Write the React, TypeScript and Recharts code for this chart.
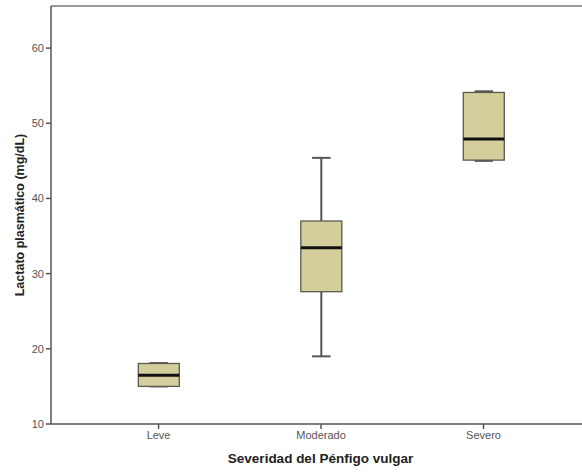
import {
  ComposedChart,
  Bar,
  XAxis,
  YAxis,
  ReferenceLine,
  Label,
} from "recharts";

const categories = ["Leve", "Moderado", "Severo"];
const positions = [1, 2, 3];
const mins = [15.0, 19.0, 45.0];
const q1s = [15.0, 27.6, 45.1];
const medians = [16.5, 33.45, 47.9];
const q3s = [18.05, 37.0, 54.1];
const maxs = [18.1, 45.4, 54.25];

const yTicks = [10, 20, 30, 40, 50, 60];
const yMax = 65.6;

const data = categories.map((name, i) => ({
  name,
  x: positions[i],
  min: mins[i],
  q1: q1s[i],
  median: medians[i],
  q3: q3s[i],
  max: maxs[i],
}));

const FONT = "'Liberation Sans', Arial, sans-serif";

function BoxShape(props: any) {
  const { x, y, width, height, payload } = props;
  const k = height / (payload.q3 - payload.q1);
  const cx = x + width / 2;
  const yTop = y - (payload.max - payload.q3) * k;
  const yBottom = y + height + (payload.q1 - payload.min) * k;
  const yMed = y + (payload.q3 - payload.median) * k;
  const cap = width * 0.45;
  return (
    <g>
      <line x1={cx} x2={cx} y1={yTop} y2={y} stroke="#555" strokeWidth={2} />
      <line x1={cx} x2={cx} y1={y + height} y2={yBottom} stroke="#555" strokeWidth={2} />
      <line x1={cx - cap / 2} x2={cx + cap / 2} y1={yTop} y2={yTop} stroke="#555" strokeWidth={2} />
      <line x1={cx - cap / 2} x2={cx + cap / 2} y1={yBottom} y2={yBottom} stroke="#555" strokeWidth={2} />
      <rect x={x} y={y} width={width} height={height} fill="#d3ce9b" stroke="#5a5a50" strokeWidth={1.3} />
      <line x1={x} x2={x + width} y1={yMed} y2={yMed} stroke="#111" strokeWidth={3} />
    </g>
  );
}

export default function App() {
  return (
    <div style={{ position: "absolute", left: 0, top: 0, width: 582, height: 473 }}>
      <ComposedChart
        width={582}
        height={473}
        data={data}
        margin={{ top: 6, right: 0, bottom: 0, left: 0 }}
      >
        <XAxis
          dataKey="x"
          type="number"
          domain={[0.338, 3.606]}
          ticks={positions}
          tickFormatter={(v: number) => categories[positions.indexOf(v)]}
          height={49}
          axisLine={{ stroke: "#555", strokeWidth: 1.5 }}
          tickLine={{ stroke: "#555", strokeWidth: 1.5 }}
          tickSize={5}
          tick={{ fill: "#555", fontSize: 11, fontFamily: FONT }}
          allowDataOverflow
        >
          <Label
            content={({ viewBox }: any) => (
              <text
                x={viewBox.x + viewBox.width / 2 + 4}
                y={viewBox.y + 39}
                textAnchor="middle"
                fontFamily={FONT}
                fontWeight="bold"
                fontSize={13.5}
                fill="#222"
              >
                Severidad del Pénfigo vulgar
              </text>
            )}
          />
        </XAxis>
        <YAxis
          type="number"
          domain={[10, yMax]}
          ticks={yTicks}
          allowDataOverflow
          width={51}
          axisLine={{ stroke: "#555", strokeWidth: 1.5 }}
          tickLine={{ stroke: "#555", strokeWidth: 1.5 }}
          tickSize={5}
          tick={{ fill: "#555", fontSize: 11, fontFamily: FONT }}
        >
          <Label
            content={({ viewBox }: any) => {
              const cy = viewBox.y + viewBox.height / 2;
              return (
                <text
                  x={20}
                  y={cy}
                  transform={`rotate(-90, 20, ${cy})`}
                  textAnchor="middle"
                  dominantBaseline="central"
                  fontFamily={FONT}
                  fontWeight="bold"
                  fontSize={12.5}
                  fill="#222"
                >
                  Lactato plasmático (mg/dL)
                </text>
              );
            }}
          />
        </YAxis>
        <ReferenceLine y={yMax} stroke="#777" strokeWidth={1.5} ifOverflow="visible" />
        <Bar
          dataKey={(d: any) => [d.q1, d.q3]}
          barSize={41}
          shape={BoxShape}
          isAnimationActive={false}
        />
      </ComposedChart>
    </div>
  );
}
